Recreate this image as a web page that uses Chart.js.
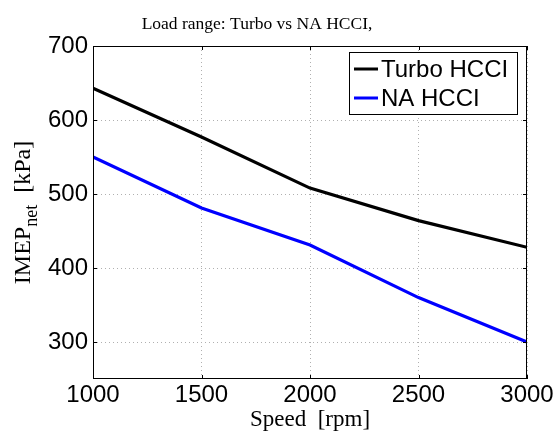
<!DOCTYPE html>
<html>
<head>
<meta charset="utf-8">
<script src="https://cdn.jsdelivr.net/npm/chart.js@4.4.0/dist/chart.umd.min.js"></script>
<style>
  html, body { margin: 0; padding: 0; background: #fff; }
</style>
</head>
<body>
<canvas id="loadChart" width="556" height="431"></canvas>
<script>
// data
const speeds = [1000, 1500, 2000, 2500, 3000];
const turboHcci = [643, 577, 508, 464, 428];
const naHcci = [550, 481, 431, 360, 300];
const xTicks = [1000, 1500, 2000, 2500, 3000];
const yTicks = [300, 400, 500, 600, 700];
const seriesLabels = ['Turbo HCCI', 'NA HCCI'];
const titleText = 'Load range: Turbo vs NA HCCI,';
const xTitle = 'Speed  [rpm]';

const sans = '"Liberation Sans", Arial, sans-serif';
const serif = '"Liberation Serif", "Times New Roman", serif';

// box, inward ticks, title, y label with subscript, legend
const matlabDecor = {
  id: 'matlabDecor',
  afterDraw(chart) {
    const ctx = chart.ctx;
    const a = chart.chartArea;
    const xs = chart.scales.x, ys = chart.scales.y;
    ctx.save();
    ctx.strokeStyle = '#000';
    ctx.lineWidth = 1;
    ctx.strokeRect(a.left + 0.5, a.top + 0.5, a.right - a.left - 1, a.bottom - a.top - 1);

    ctx.beginPath();
    xTicks.forEach(v => {
      const x = Math.round(xs.getPixelForValue(v)) + 0.5;
      ctx.moveTo(x, a.bottom); ctx.lineTo(x, a.bottom - 4);
      ctx.moveTo(x, a.top); ctx.lineTo(x, a.top + 4);
    });
    yTicks.forEach(v => {
      const y = Math.round(ys.getPixelForValue(v)) + 0.5;
      ctx.moveTo(a.left, y); ctx.lineTo(a.left + 4, y);
      ctx.moveTo(a.right, y); ctx.lineTo(a.right - 4, y);
    });
    ctx.stroke();

    // title
    ctx.fillStyle = '#000';
    ctx.font = '17.5px ' + serif;
    ctx.textAlign = 'center';
    ctx.textBaseline = 'alphabetic';
    ctx.fillText(titleText, 257, 29);

    // x label
    ctx.font = '23px ' + serif;
    ctx.fillText(xTitle, 310, 426);

    // y label: IMEP_net  [kPa]
    ctx.save();
    ctx.translate(30, (a.top + a.bottom) / 2);
    ctx.rotate(-Math.PI / 2);
    const big = '24px ' + serif, small = '18px ' + serif;
    ctx.font = big;
    const w1 = ctx.measureText('IMEP').width;
    const w3 = ctx.measureText('  [kPa]').width;
    ctx.font = small;
    const w2 = ctx.measureText('net').width;
    let x0 = -(w1 + w2 + w3) / 2;
    ctx.textAlign = 'left';
    ctx.font = big;
    ctx.fillText('IMEP', x0, 0);
    ctx.font = small;
    ctx.fillText('net', x0 + w1, 7);
    ctx.font = big;
    ctx.fillText('  [kPa]', x0 + w1 + w2, 0);
    ctx.restore();

    // legend
    const lx = 349, ly = 52, lw = 168, lh = 62;
    ctx.fillStyle = '#fff';
    ctx.fillRect(lx, ly, lw, lh);
    ctx.strokeStyle = '#000';
    ctx.lineWidth = 1;
    ctx.strokeRect(lx + 0.5, ly + 0.5, lw, lh);
    ctx.font = '24px ' + sans;
    ctx.textAlign = 'left';
    ctx.textBaseline = 'middle';
    chart.data.datasets.forEach((ds, i) => {
      const y = ly + 17 + i * 29;
      ctx.strokeStyle = ds.borderColor;
      ctx.lineWidth = 3;
      ctx.beginPath();
      ctx.moveTo(354, y); ctx.lineTo(378, y);
      ctx.stroke();
      ctx.fillStyle = '#000';
      ctx.fillText(ds.label, 381, y + 1);
    });
    ctx.restore();
  }
};

new Chart(document.getElementById('loadChart'), {
  type: 'line',
  data: {
    datasets: [
      {
        label: seriesLabels[0],
        data: speeds.map((s, i) => ({ x: s, y: turboHcci[i] })),
        borderColor: '#000000',
        borderWidth: 3.2,
        pointRadius: 0,
        fill: false,
        tension: 0
      },
      {
        label: seriesLabels[1],
        data: speeds.map((s, i) => ({ x: s, y: naHcci[i] })),
        borderColor: '#0000ff',
        borderWidth: 3.2,
        pointRadius: 0,
        fill: false,
        tension: 0
      }
    ]
  },
  options: {
    responsive: false,
    animation: false,
    devicePixelRatio: 1,
    layout: { padding: { left: 0, top: 46, right: 29, bottom: 0 } },
    plugins: {
      legend: { display: false },
      title: { display: false },
      tooltip: { enabled: false }
    },
    scales: {
      x: {
        type: 'linear',
        min: 1000,
        max: 3000,
        afterBuildTicks: scale => { scale.ticks = xTicks.map(v => ({ value: v })); },
        afterFit: scale => { scale.height = 52; },
        border: { display: false, dash: [1, 3] },
        grid: {
          color: '#b0b0b0',
          lineWidth: 1,
          drawTicks: false
        },
        ticks: {
          color: '#000',
          font: { family: sans, size: 24 },
          padding: 2,
          maxRotation: 0,
          callback: v => String(v)
        }
      },
      y: {
        min: 250,
        max: 700,
        afterBuildTicks: scale => { scale.ticks = yTicks.map(v => ({ value: v })); },
        afterFit: scale => { scale.width = 93; },
        border: { display: false, dash: [1, 3] },
        grid: {
          color: '#b0b0b0',
          lineWidth: 1,
          drawTicks: false
        },
        ticks: {
          color: '#000',
          font: { family: sans, size: 24 },
          padding: 5,
          callback: v => String(v)
        }
      }
    }
  },
  plugins: [matlabDecor]
});
</script>
</body>
</html>
